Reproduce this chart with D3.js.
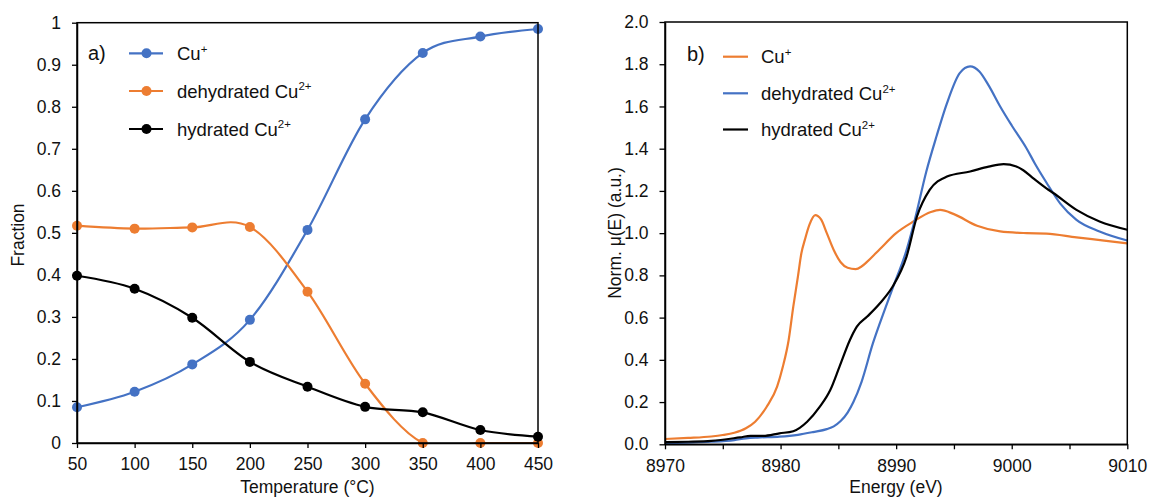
<!DOCTYPE html>
<html><head><meta charset="utf-8">
<script src="https://cdn.jsdelivr.net/npm/d3@7"></script>
<style>
body{margin:0;background:#fff;}
text{font-family:Arial,"Liberation Sans",sans-serif;fill:#111;}
</style></head>
<body><svg id="c" width="1152" height="498"></svg>
<script>
// ---- Panel a data ----
const temps = [50,100,150,200,250,300,350,400,450];
const cuPlusFrac = [0.085,0.122,0.187,0.293,0.507,0.770,0.928,0.967,0.985];
const dehydFrac  = [0.517,0.510,0.513,0.514,0.360,0.141,0.000,0.000,0.000];
const hydFrac    = [0.398,0.367,0.298,0.193,0.134,0.086,0.073,0.031,0.015];
const fracTicks = [0,0.1,0.2,0.3,0.4,0.5,0.6,0.7,0.8,0.9,1];
const tempTicks = [50,100,150,200,250,300,350,400,450];

// ---- Panel b data ----
const cuPlusE = [8970,8972,8974,8975,8976,8977,8977.8,8978.8,8979.7,8980.2,8980.7,8981.1,8981.5,8981.8,8982.1,8982.5,8983.0,8983.5,8984.0,8984.6,8985.2,8985.8,8986.5,8987.0,8987.5,8988.6,8990.0,8991.5,8993.0,8993.8,8995.0,8997.0,8999.0,9001.3,9003.0,9005.6,9008.0,9010];
const cuPlusMu = [0.025,0.030,0.037,0.044,0.055,0.076,0.107,0.178,0.273,0.368,0.494,0.652,0.794,0.905,0.968,1.040,1.085,1.065,1.000,0.920,0.862,0.836,0.830,0.842,0.865,0.925,1.000,1.055,1.100,1.110,1.090,1.035,1.008,1.000,0.998,0.980,0.965,0.952];
const dehydE = [8970,8972,8974,8976,8977,8978,8979.9,8981.5,8982.8,8984.0,8984.6,8985.2,8985.8,8986.3,8987.0,8988.0,8988.6,8989.7,8990.9,8991.6,8992.6,8993.5,8994.4,8995.5,8996.4,8997.2,8998.0,8999.0,9000.0,9001.3,9002.0,9003.0,9004.2,9005.6,9007.6,9010];
const dehydMu = [0.005,0.008,0.012,0.020,0.028,0.032,0.036,0.045,0.058,0.072,0.085,0.110,0.150,0.200,0.295,0.480,0.575,0.740,0.920,1.060,1.290,1.460,1.616,1.758,1.790,1.766,1.700,1.600,1.510,1.400,1.330,1.240,1.140,1.063,1.008,0.965];
const hydE = [8970,8972,8974,8976.5,8977.4,8978.5,8979.9,8981.1,8982.3,8983.4,8984.3,8985.1,8986.0,8986.6,8987.5,8988.6,8989.7,8990.9,8991.8,8992.9,8994.4,8996.4,8998.0,8999.3,9000.4,9001.0,9001.9,9003.0,9003.6,9005.6,9007.6,9010];
const hydMu = [0.010,0.012,0.016,0.033,0.040,0.040,0.052,0.062,0.107,0.178,0.257,0.368,0.494,0.557,0.605,0.668,0.747,0.889,1.079,1.205,1.268,1.292,1.315,1.327,1.316,1.298,1.258,1.212,1.190,1.110,1.055,1.016];
const muTicks = [0,0.2,0.4,0.6,0.8,1.0,1.2,1.4,1.6,1.8,2.0];
const eLabelTicks = [8970,8980,8990,9000,9010];
const eMinorTicks = [8970,8975,8980,8985,8990,8995,9000,9005,9010];

const BLUE="#4472C4", ORANGE="#ED7D31", BLACK="#000000";
const svg = d3.select("#c");
svg.append("rect").attr("width",1152).attr("height",498).attr("fill","#fff");

const FS = 17.5;
const FONT = "Arial, 'Liberation Sans', sans-serif";

function frame(g, x, y){
  const [x0,x1]=x.range(), [y0,y1]=y.range();
  g.append("rect").attr("x",x0).attr("y",y1).attr("width",x1-x0).attr("height",y0-y1)
    .attr("fill","none").attr("stroke","#000").attr("stroke-width",1.5);
}
function legendLabel(g, x, y, base, sup, fs){
  const t = g.append("text").attr("x",x).attr("y",y).attr("font-size",fs).text(base);
  t.append("tspan").attr("font-size",fs*0.62).attr("dy",-fs*0.4).text(sup);
}
function styleAxis(a){
  a.select(".domain").attr("stroke","#000").attr("stroke-width",1.5);
  a.selectAll(".tick line").attr("stroke","#000").attr("stroke-width",1.3);
  a.selectAll(".tick text").attr("font-size",FS).attr("font-family",FONT).attr("fill","#111");
}

// ===== Panel a =====
{
  const x = d3.scaleLinear().domain([50,450]).range([77,538]);
  const y = d3.scaleLinear().domain([0,1]).range([443,22.7]);
  const g = svg.append("g");
  svg.append("defs").append("clipPath").attr("id","clipA").append("rect")
    .attr("x",77).attr("y",0).attr("width",538-77).attr("height",443);

  const series = [[cuPlusFrac,BLUE],[dehydFrac,ORANGE],[hydFrac,BLACK]];
  const line = d3.line().x(d=>x(d[0])).y(d=>y(d[1])).curve(d3.curveCatmullRom.alpha(0));
  series.forEach(([vals,col])=>{
    const pts = temps.map((t,i)=>[t,vals[i]]);
    g.append("path").attr("d",line(pts)).attr("fill","none").attr("stroke",col)
      .attr("stroke-width",2.2).attr("clip-path","url(#clipA)");
  });
  series.forEach(([vals,col])=>{
    g.selectAll(null).data(temps.map((t,i)=>[t,vals[i]])).enter().append("circle")
      .attr("cx",d=>x(d[0])).attr("cy",d=>y(d[1])).attr("r",5).attr("fill",col);
  });

  frame(g,x,y);
  const ax = g.append("g").attr("transform","translate(0,443)")
    .call(d3.axisBottom(x).tickValues(tempTicks).tickSize(5).tickSizeOuter(0).tickPadding(10));
  const ay = g.append("g").attr("transform","translate(77,0)")
    .call(d3.axisLeft(y).tickValues(fracTicks).tickSize(5).tickSizeOuter(0).tickPadding(11).tickFormat(d=>d3.format("~g")(d)));
  styleAxis(ax); styleAxis(ay);
  g.append("text").attr("x",307.5).attr("y",493).attr("text-anchor","middle").attr("font-size",FS).text("Temperature (°C)");
  g.append("text").attr("transform","translate(24,235) rotate(-90)").attr("text-anchor","middle").attr("font-size",FS).text("Fraction");

  // legend
  g.append("text").attr("x",88).attr("y",60).attr("font-size",20).text("a)");
  const rows=[["Cu","+",BLUE,53.3],["dehydrated Cu","2+",ORANGE,91],["hydrated Cu","2+",BLACK,129]];
  rows.forEach(([b,s,col,yy])=>{
    g.append("line").attr("x1",129).attr("x2",163).attr("y1",yy).attr("y2",yy).attr("stroke",col).attr("stroke-width",2.2);
    g.append("circle").attr("cx",146.5).attr("cy",yy).attr("r",5).attr("fill",col);
    legendLabel(g,177,yy+6.7,b,s,18.5);
  });
}

// ===== Panel b =====
{
  const x = d3.scaleLinear().domain([8970,9010]).range([665,1127.3]);
  const y = d3.scaleLinear().domain([0,2]).range([444.3,22]);
  const g = svg.append("g");
  const line = d3.line().x(d=>x(d[0])).y(d=>y(d[1])).curve(d3.curveMonotoneX);
  const series=[[cuPlusE,cuPlusMu,ORANGE],[dehydE,dehydMu,BLUE],[hydE,hydMu,BLACK]];
  series.forEach(([es,vs,col])=>{
    g.append("path").attr("d",line(es.map((e,i)=>[e,vs[i]]))).attr("fill","none")
      .attr("stroke",col).attr("stroke-width",2.2);
  });
  frame(g,x,y);
  const ax = g.append("g").attr("transform","translate(0,444.3)")
    .call(d3.axisBottom(x).tickValues(eMinorTicks).tickSize(5).tickSizeOuter(0).tickPadding(10)
      .tickFormat(d=>eLabelTicks.includes(d)?d3.format("d")(d):""));
  const ay = g.append("g").attr("transform","translate(665,0)")
    .call(d3.axisLeft(y).tickValues(muTicks).tickSize(5.5).tickSizeOuter(0).tickPadding(11).tickFormat(d3.format(".1f")));
  styleAxis(ax); styleAxis(ay);
  g.append("text").attr("x",896).attr("y",493).attr("text-anchor","middle").attr("font-size",FS).text("Energy (eV)");
  g.append("text").attr("transform","translate(621,233) rotate(-90)").attr("text-anchor","middle").attr("font-size",FS).text("Norm. μ(E) (a.u.)");

  g.append("text").attr("x",687).attr("y",61).attr("font-size",20).text("b)");
  const rows=[["Cu","+",ORANGE,56.7],["dehydrated Cu","2+",BLUE,93.3],["hydrated Cu","2+",BLACK,129.5]];
  rows.forEach(([b,s,col,yy])=>{
    g.append("line").attr("x1",723).attr("x2",748).attr("y1",yy).attr("y2",yy).attr("stroke",col).attr("stroke-width",2.2);
    legendLabel(g,761,yy+6.7,b,s,18.5);
  });
}
</script></body></html>
